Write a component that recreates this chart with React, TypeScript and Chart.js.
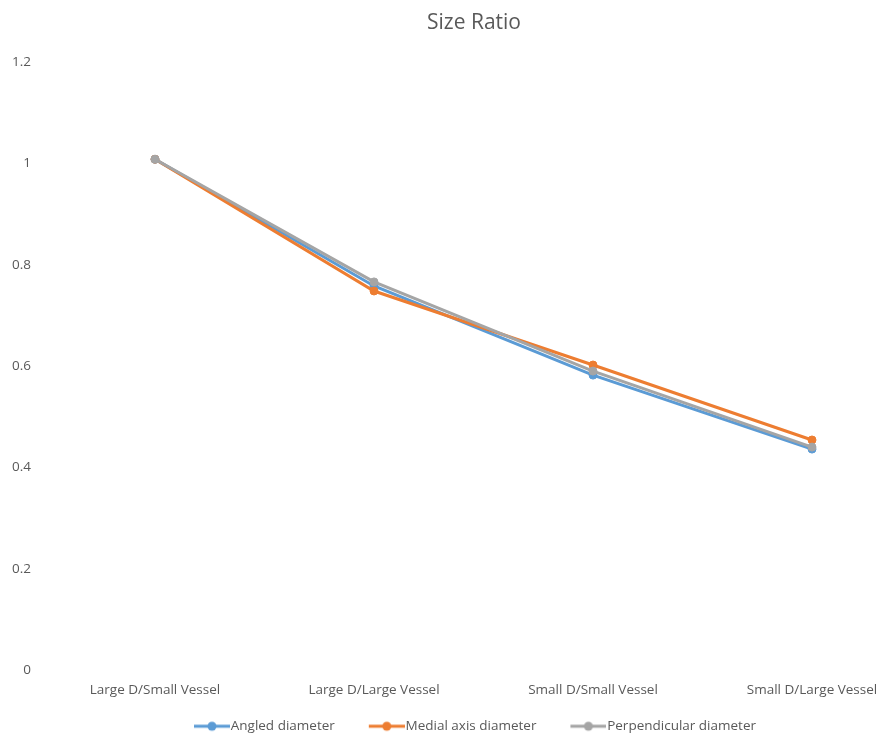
import React, { useEffect, useRef } from 'react';
import { Chart, registerables } from 'chart.js';

Chart.register(...registerables);

const CATEGORIES = ['Large D/Small Vessel', 'Large D/Large Vessel', 'Small D/Small Vessel', 'Small D/Large Vessel'];
const ANGLED = [1.008, 0.758, 0.582, 0.436];
const MEDIAL = [1.008, 0.748, 0.602, 0.454];
const PERPENDICULAR = [1.008, 0.766, 0.59, 0.44];
const SERIES_NAMES = ['Angled diameter', 'Medial axis diameter', 'Perpendicular diameter'];
const COLORS = ['#5B9BD5', '#ED7D31', '#A5A5A5'];
const Y_TICK_LABELS = ['0', '0.2', '0.4', '0.6', '0.8', '1', '1.2'];
const TITLE = 'Size Ratio';

const FONT = "'Open Sans', 'Noto Sans', sans-serif";
const TEXT_COLOR = '#595959';

function legendSymbol(color: string): HTMLCanvasElement {
  const c = document.createElement('canvas');
  c.width = 44;
  c.height = 12;
  const ctx = c.getContext('2d')!;
  ctx.strokeStyle = color;
  ctx.lineWidth = 3;
  ctx.beginPath();
  ctx.moveTo(8, 6);
  ctx.lineTo(44, 6);
  ctx.stroke();
  ctx.fillStyle = color;
  ctx.beginPath();
  ctx.arc(26, 6, 4.5, 0, Math.PI * 2);
  ctx.fill();
  return c;
}

export default function App() {
  const canvasRef = useRef<HTMLCanvasElement | null>(null);

  useEffect(() => {
    if (!canvasRef.current) return;
    const seriesData = [ANGLED, MEDIAL, PERPENDICULAR];
    const orders = [3, 2, 1];
    const symbols = COLORS.map((c) => legendSymbol(c));

    const chart = new Chart(canvasRef.current, {
      type: 'line',
      data: {
        labels: CATEGORIES,
        datasets: seriesData.map((d, i) => ({
          label: SERIES_NAMES[i],
          data: d,
          borderColor: COLORS[i],
          backgroundColor: COLORS[i],
          pointBackgroundColor: COLORS[i],
          pointBorderColor: COLORS[i],
          borderWidth: 3,
          pointRadius: 4,
          pointBorderWidth: 1,
          pointStyle: 'circle',
          tension: 0,
          fill: false,
          clip: false as any,
          order: orders[i],
        })),
      },
      options: {
        animation: false,
        responsive: true,
        maintainAspectRatio: false,
        layout: { padding: { left: 136, right: 72, top: 0, bottom: -3 } },
        plugins: {
          title: {
            display: true,
            text: TITLE,
            color: TEXT_COLOR,
            font: { family: FONT, size: 21, weight: 'normal' as any },
            padding: { top: 10, bottom: 26.8 },
          },
          legend: {
            display: true,
            position: 'bottom',
            labels: {
              usePointStyle: true,
              pointStyleWidth: 32,
              padding: 32,
              color: TEXT_COLOR,
              font: { family: FONT, size: 13.5 },
              generateLabels: (ch: any) =>
                ch.data.datasets.map((ds: any, i: number) => ({
                  text: ds.label,
                  fillStyle: COLORS[i],
                  strokeStyle: COLORS[i],
                  fontColor: TEXT_COLOR,
                  lineWidth: 0,
                  pointStyle: symbols[i],
                  hidden: false,
                  datasetIndex: i,
                })),
            },
          },
          tooltip: { enabled: false },
        },
        scales: {
          x: {
            type: 'category',
            offset: false,
            grid: { display: false, drawTicks: false },
            border: { display: false },
            ticks: {
              color: TEXT_COLOR,
              font: { family: FONT, size: 13.5 },
              mirror: true,
              padding: -28,
              maxRotation: 0,
              autoSkip: false,
            },
            afterFit: (scale: any) => {
              scale.height = 17.5;
              scale.paddingLeft = 0;
              scale.paddingRight = 0;
            },
          },
          y: {
            type: 'linear',
            min: 0,
            max: 1.2,
            grid: { display: false, drawTicks: false },
            border: { display: false },
            ticks: {
              stepSize: 0.2,
              color: TEXT_COLOR,
              font: { family: FONT, size: 13.5 },
              mirror: true,
              crossAlign: 'far',
              padding: -143,
              callback: (_v: any, i: number) => Y_TICK_LABELS[i],
            },
            afterFit: (scale: any) => {
              scale.width = 19;
              scale.paddingTop = 0;
              scale.paddingBottom = 0;
            },
          },
        },
      },
    });
    return () => chart.destroy();
  }, []);

  return (
    <div style={{ position: 'absolute', left: 0, top: 0, width: 884, height: 740, background: '#fff' }}>
      <canvas ref={canvasRef} />
    </div>
  );
}
